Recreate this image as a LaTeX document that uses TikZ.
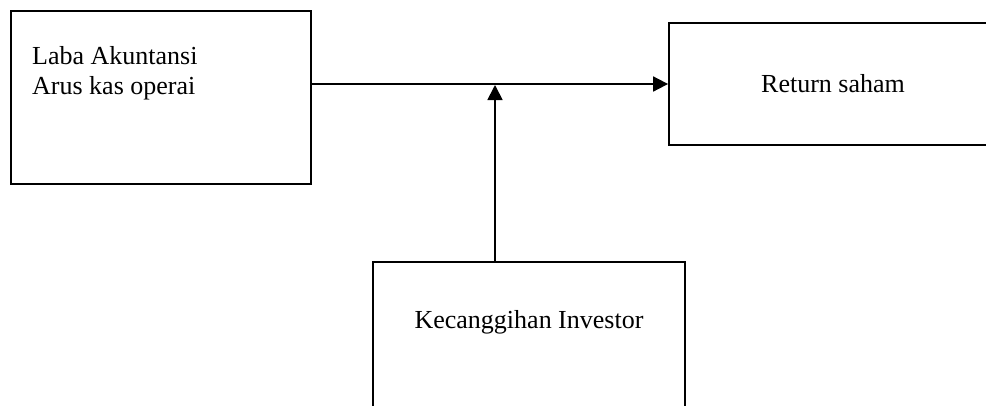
\documentclass[tikz,border=0pt]{standalone}
\usepackage{fontspec}
\setmainfont{Liberation Serif}
\usetikzlibrary{arrows.meta,positioning}
\begin{document}
\begin{tikzpicture}[x=1pt,y=-1pt,
           box_style/.style={rectangle,draw=black,line width=1.8pt,inner sep=0pt},
           text_style/.style={font=\fontsize{26}{30}\selectfont,inner sep=0pt},
           edge_style/.style={draw=black,line width=1.8pt,-{Triangle[length=15pt,width=15pt]}}]
            \useasboundingbox (0,0) rectangle (986,405);
            \node[box_style,minimum width=300pt,minimum height=173pt] (acc) at (161,97.5) {};
            \node[box_style,text_style,minimum width=328pt,minimum height=122pt] (ret) at (833,84) {Return saham};
            \node[box_style,minimum width=312pt,minimum height=200pt] (inv) at (529,362) {};
            \node[text_style,align=left,anchor=north west] (acc_text) at (32,46) {Laba Akuntansi\\Arus kas operai};
            \node[text_style] (inv_text) at (529,322) {Kecanggihan Investor};
            \coordinate (join) at (495,84);
            \draw[edge_style]  (acc.east |- ret.west) -- (ret.west);
            \draw[edge_style,shorten >=1pt]  (inv.north -| join) -- (join);
        \end{tikzpicture}
\end{document}
